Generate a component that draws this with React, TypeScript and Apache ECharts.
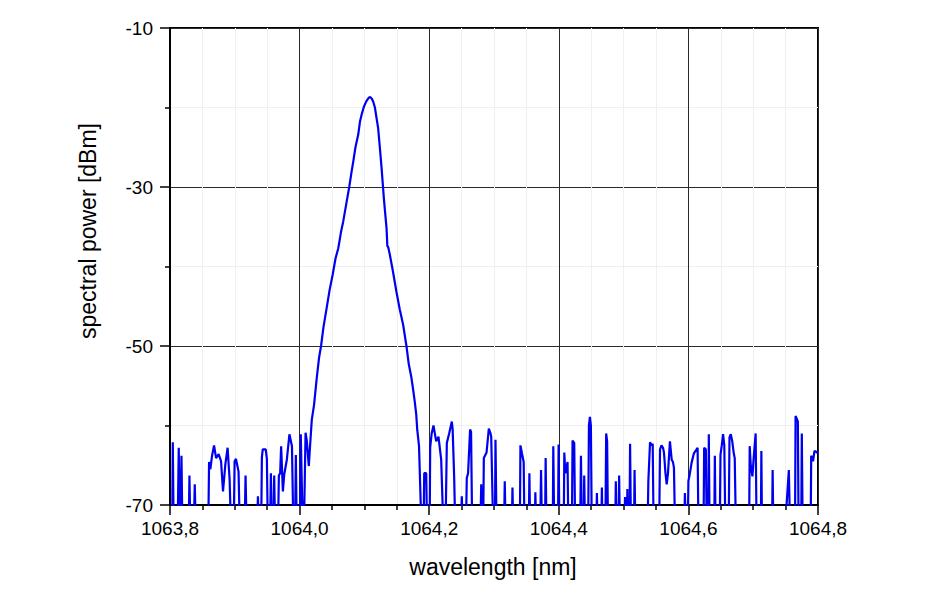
import React, { useEffect, useRef } from "react";
import * as echarts from "echarts";

const F = -72; // below the axis floor (clipped)

const xTicks = { min: 1063.8, max: 1064.8, interval: 0.2 };
const yTicks = { min: -70, max: -10, interval: 20 };

const leftNoise: [number, number][] = [
  [1063.8, F], [1063.8035, F], [1063.8043, -62.1], [1063.8055, F],
  [1063.812, F], [1063.8135, -62.8], [1063.815, F], [1063.8165, F], [1063.8177, -63.8], [1063.819, F],
  [1063.829, F], [1063.83, -66.3], [1063.8312, F],
  [1063.837, F], [1063.8382, -67.4], [1063.8395, F],
  [1063.8592, F], [1063.8603, -64.6], [1063.8623, -65.5], [1063.8649, -63.8], [1063.868, -62.5],
  [1063.8711, -64.1], [1063.8751, -63.6], [1063.8788, -64.5], [1063.8818, -68.3], [1063.8854, -64.9],
  [1063.8889, -62.8], [1063.892, -66.8], [1063.8938, F],
  [1063.8985, F], [1063.8997, -64.5], [1063.9018, -64.2], [1063.9038, -65.0], [1063.9058, -65.8], [1063.9074, F],
  [1063.9154, F], [1063.9166, -66.3], [1063.918, F],
  [1063.9346, F], [1063.9357, -68.9], [1063.9369, F],
  [1063.9408, F], [1063.9418, -64.0], [1063.9431, -63.0], [1063.9477, -63.0], [1063.9495, -64.2], [1063.9508, F],
  [1063.9546, F], [1063.9557, -66.0], [1063.9569, F],
  [1063.9597, F], [1063.9608, -66.3], [1063.962, F],
  [1063.9669, F], [1063.968, -66.3], [1063.97, -66.0], [1063.9715, -62.6], [1063.9742, -68.3],
  [1063.9762, -66.2], [1063.9803, -64.3], [1063.9843, -61.1], [1063.9882, -62.6], [1063.9902, F],
  [1063.9931, F], [1063.9942, -63.7], [1063.9954, F],
  [1064.0008, F], [1064.0018, -61.1], [1064.0046, F],
  [1064.0069, F], [1064.0092, -60.9], [1064.0111, -61.9], [1064.0142, -65.1], [1064.0162, -62.5], [1064.0188, -59.3],
];

const peak: [number, number][] = [
  [1064.0223, -57.4], [1064.0265, -54.0], [1064.03, -51.5], [1064.0331, -50.0], [1064.0369, -47.6],
  [1064.0418, -45.2], [1064.0462, -43.0], [1064.0511, -41.0], [1064.0554, -39.0], [1064.0597, -37.7],
  [1064.0638, -35.7], [1064.0674, -34.3], [1064.0723, -32.0], [1064.0766, -30.0], [1064.08, -28.2],
  [1064.0828, -26.8], [1064.0862, -25.0], [1064.0905, -23.4], [1064.0931, -21.8], [1064.0957, -20.9],
  [1064.0992, -19.9], [1064.1031, -19.2], [1064.1069, -18.75], [1064.1092, -18.7], [1064.1115, -18.9],
  [1064.1138, -19.3], [1064.1162, -20.0], [1064.1185, -21.2], [1064.1212, -22.6], [1064.1238, -25.0],
  [1064.1265, -27.6], [1064.13, -31.4], [1064.1323, -33.5], [1064.1342, -35.2], [1064.1354, -37.4],
  [1064.1369, -37.6], [1064.1392, -38.5], [1064.1438, -40.5], [1064.1495, -43.2], [1064.1546, -45.4],
  [1064.1597, -47.3], [1064.1649, -50.0], [1064.1685, -52.3], [1064.1726, -54.0], [1064.1754, -55.6],
  [1064.1777, -57.0], [1064.18, -58.6], [1064.1815, -60.5], [1064.1843, -62.6], [1064.1877, F],
];

const rightNoise: [number, number][] = [
  [1064.1915, F], [1064.1923, -66.0], [1064.1954, -66.0], [1064.1965, F],
  [1064.2008, F], [1064.2015, -62.8], [1064.2038, -61.0], [1064.2066, -60.0], [1064.2108, -62.0],
  [1064.2143, -61.4], [1064.2169, -63.2], [1064.2185, -64.3], [1064.2215, F],
  [1064.2254, F], [1064.2272, -62.2], [1064.2308, -61.0], [1064.2349, -59.5], [1064.2362, -60.5], [1064.2385, -66.4], [1064.24, F],
  [1064.2492, F], [1064.2503, -68.9], [1064.2515, F],
  [1064.2569, F], [1064.258, -66.6], [1064.26, -66.0], [1064.2631, -60.5], [1064.2646, -60.8], [1064.2662, F],
  [1064.2792, F], [1064.2803, -67.4], [1064.2815, F],
  [1064.2834, F], [1064.2843, -64.1], [1064.2885, -63.4], [1064.292, -60.4], [1064.2946, -61.0], [1064.2957, -61.4], [1064.2985, F],
  [1064.3015, F], [1064.3023, -61.8], [1064.3038, F],
  [1064.3157, F], [1064.3166, -67.0], [1064.3177, F],
  [1064.3277, F], [1064.3285, -67.8], [1064.3295, F],
  [1064.34, F], [1064.3408, -62.5], [1064.3431, -63.5], [1064.3458, -64.6], [1064.3469, F],
  [1064.3538, F], [1064.3546, -66.0], [1064.3557, F],
  [1064.3631, F], [1064.3638, -68.4], [1064.3649, F],
  [1064.3715, F], [1064.3726, -65.6], [1064.3738, F],
  [1064.3789, F], [1064.3797, -64.1], [1064.3808, F],
  [1064.3908, F], [1064.3915, -62.6], [1064.3928, F],
  [1064.3988, F], [1064.3997, -62.4], [1064.4008, F],
  [1064.4077, F], [1064.4085, -63.4], [1064.41, -66.0], [1064.4135, -64.6], [1064.4146, F],
  [1064.4203, F], [1064.4212, -61.9], [1064.4238, -62.2], [1064.4251, F],
  [1064.4331, F], [1064.4342, -63.8], [1064.4354, F],
  [1064.4385, F], [1064.4392, -66.3], [1064.4403, F],
  [1064.4454, F], [1064.4465, -60.0], [1064.448, -58.9], [1064.4495, -60.0], [1064.4508, F],
  [1064.458, F], [1064.4588, -68.5], [1064.4597, F],
  [1064.4657, F], [1064.4665, -67.8], [1064.4672, F],
  [1064.472, F], [1064.4731, -61.0], [1064.4746, -62.0], [1064.4758, F],
  [1064.4872, F], [1064.488, -67.0], [1064.4889, F],
  [1064.4923, F], [1064.4931, -66.3], [1064.4942, F],
  [1064.5015, F], [1064.5023, -69.0], [1064.5031, F],
  [1064.5054, F], [1064.5058, -68.0], [1064.5066, F],
  [1064.5092, F], [1064.51, -62.3], [1064.5112, F],
  [1064.5162, F], [1064.5169, -65.6], [1064.518, F],
  [1064.5372, F], [1064.5382, -67.0], [1064.5408, -62.1], [1064.5431, -62.5], [1064.5449, -62.3], [1064.5462, F],
  [1064.555, F], [1064.5562, -63.0], [1064.5585, -62.5], [1064.5608, -62.8], [1064.5623, -63.4],
  [1064.5646, -66.0], [1064.5665, -67.4], [1064.5685, -66.0], [1064.5715, -62.0], [1064.5742, -64.3],
  [1064.5762, -64.6], [1064.5777, -65.3], [1064.5792, F],
  [1064.5938, F], [1064.5946, -68.5], [1064.5957, F],
  [1064.5992, F], [1064.6, -67.0], [1064.6023, -66.0], [1064.6049, -64.7], [1064.6085, -63.5], [1064.6142, -62.8], [1064.6154, F],
  [1064.6235, F], [1064.6243, -62.8], [1064.6269, -63.0], [1064.6282, F],
  [1064.6308, F], [1064.6315, -61.1], [1064.6326, F],
  [1064.64, F], [1064.6408, -63.8], [1064.6418, F],
  [1064.6485, F], [1064.6495, -63.7], [1064.6515, -62.5], [1064.6535, -61.1], [1064.6554, -62.5], [1064.6569, F],
  [1064.6623, F], [1064.6634, -61.5], [1064.6654, -61.1], [1064.6677, -62.0], [1064.67, -63.5], [1064.6715, -64.1], [1064.6731, F],
  [1064.6938, F], [1064.6946, -62.6], [1064.6962, -65.0], [1064.6988, -66.4], [1064.7008, -64.0], [1064.7038, -61.0], [1064.7051, F],
  [1064.7119, F], [1064.7126, -63.2], [1064.7135, F],
  [1064.7292, F], [1064.73, -65.6], [1064.7309, F],
  [1064.75, F], [1064.7523, -69.0], [1064.755, -65.6], [1064.7566, F],
  [1064.7646, F], [1064.7654, -58.8], [1064.7689, -59.5], [1064.77, F],
  [1064.7742, F], [1064.775, -61.0], [1064.7762, F],
  [1064.7888, F], [1064.7895, -63.8], [1064.7923, -64.5], [1064.7946, -63.2], [1064.7972, -63.3], [1064.8, -63.5],
];

const FONT = "'Liberation Sans', Arial, Helvetica, sans-serif";

export default function App() {
  const ref = useRef<HTMLDivElement>(null);
  useEffect(() => {
    if (!ref.current) return;
    const chart = echarts.init(ref.current, undefined, { renderer: "svg" });
    const spectrum = [...leftNoise, ...peak, ...rightNoise];
    chart.setOption({
      animation: false,
      backgroundColor: "#ffffff",
      grid: {
        left: 170,
        right: 132,
        top: 28,
        bottom: 85,
        show: true,
        borderColor: "#000",
        borderWidth: 2,
        backgroundColor: "transparent",
      },
      xAxis: {
        type: "value",
        min: xTicks.min,
        max: xTicks.max,
        interval: xTicks.interval,
        axisLine: { show: true, onZero: false, lineStyle: { color: "#000", width: 2 } },
        axisTick: { show: true, length: 10, lineStyle: { color: "#000", width: 1.5 } },
        minorTick: { show: true, splitNumber: 4, length: 5, lineStyle: { color: "#000", width: 1.5 } },
        splitLine: { show: true, lineStyle: { color: "#2a2a2a", width: 1 } },
        minorSplitLine: { show: true, lineStyle: { color: "#f0f0f0", width: 1 } },
        axisLabel: {
          margin: 14,
          fontSize: 19,
          color: "#000",
          fontFamily: FONT,
          formatter: (v: number) => v.toFixed(1).replace(".", ","),
        },
      },
      yAxis: {
        type: "value",
        min: yTicks.min,
        max: yTicks.max,
        interval: yTicks.interval,
        axisLine: { show: true, onZero: false, lineStyle: { color: "#000", width: 2 } },
        axisTick: { show: true, length: 10, lineStyle: { color: "#000", width: 1.5 } },
        minorTick: { show: true, splitNumber: 2, length: 5, lineStyle: { color: "#000", width: 1.5 } },
        splitLine: { show: true, lineStyle: { color: "#2a2a2a", width: 1 } },
        minorSplitLine: { show: true, lineStyle: { color: "#f0f0f0", width: 1 } },
        axisLabel: { margin: 17, fontSize: 19, color: "#000", fontFamily: FONT },
      },
      graphic: [
        {
          type: "text",
          x: 88,
          y: 231,
          rotation: Math.PI / 2,
          style: {
            text: "spectral power [dBm]",
            fontSize: 23,
            fontFamily: FONT,
            fill: "#000",
            textAlign: "center",
            textVerticalAlign: "middle",
          },
        },
        {
          type: "text",
          x: 493,
          y: 567,
          style: {
            text: "wavelength [nm]",
            fontSize: 23,
            fontFamily: FONT,
            fill: "#000",
            textAlign: "center",
            textVerticalAlign: "middle",
          },
        },
      ],
      series: [
        {
          type: "line",
          data: spectrum,
          showSymbol: false,
          symbol: "none",
          clip: true,
          lineStyle: { color: "#0000f0", width: 2.2 },
          z: 3,
        },
      ],
    });
    return () => chart.dispose();
  }, []);
  return (
    <div
      ref={ref}
      style={{ position: "absolute", left: 0, top: 0, width: 950, height: 590, background: "#fff" }}
    />
  );
}
